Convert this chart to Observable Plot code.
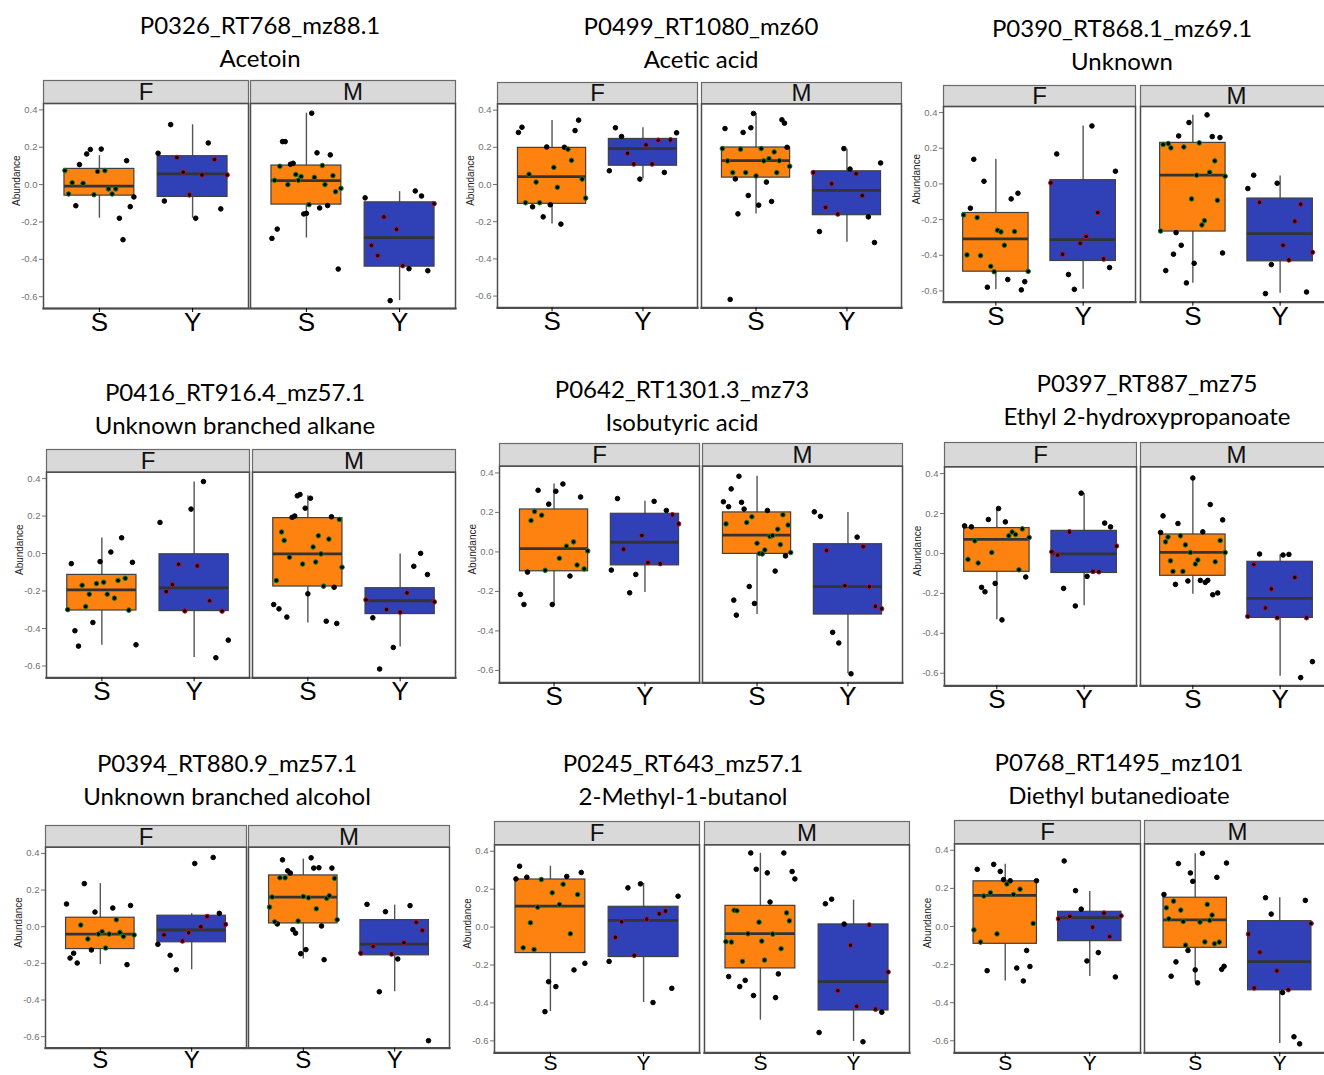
<!DOCTYPE html>
<html><head><meta charset="utf-8">
<script src="https://cdn.jsdelivr.net/npm/d3@7"></script>
<script src="https://cdn.jsdelivr.net/npm/@observablehq/plot@0.6"></script>
<style>
html,body{margin:0;padding:0;background:#fff;}
body{width:1324px;height:1075px;overflow:hidden;position:relative;}
.title{position:absolute;font-family:Lato,"Open Sans",sans-serif;font-size:24px;line-height:33px;text-align:center;white-space:nowrap;color:#000;transform:translateX(-50%);}
.panel{position:absolute;}
.panel svg{overflow:visible;max-width:none !important;height:auto;}
</style></head><body>
<script>
const sexes = ["F","M"];
const groups = ["S","Y"];
const groupColors = ["#fe820f","#3041b7"];
const insideStroke = ["#1f7a1f","#c0103a"];
const yTicks = [-0.6,-0.4,-0.2,0,0.2,0.4];
const featureIds = ["P0326_RT768_mz88.1","P0499_RT1080_mz60","P0390_RT868.1_mz69.1","P0416_RT916.4_mz57.1","P0642_RT1301.3_mz73","P0397_RT887_mz75","P0394_RT880.9_mz57.1","P0245_RT643_mz57.1","P0768_RT1495_mz101"];
const compoundNames = ["Acetoin","Acetic acid","Unknown","Unknown branched alkane","Isobutyric acid","Ethyl 2-hydroxypropanoate","Unknown branched alcohol","2-Methyl-1-butanol","Diethyl butanedioate"];

// box summaries [lower whisker, Q1, median, Q3, upper whisker] in order F-S, F-Y, M-S, M-Y
const boxes1 = [[-0.18,-0.059,-0.008,0.084,0.155],[-0.18,-0.066,0.057,0.152,0.32],[-0.286,-0.107,0.021,0.102,0.382],[-0.621,-0.439,-0.284,-0.095,-0.038]];
const boxes2 = [[-0.213,-0.104,0.042,0.197,0.344],[0.031,0.101,0.193,0.245,0.305],[-0.158,0.037,0.128,0.199,0.382],[-0.31,-0.165,-0.032,0.071,0.19]];
const boxes3 = [[-0.593,-0.492,-0.308,-0.163,0.138],[-0.59,-0.432,-0.312,0.021,0.325],[-0.557,-0.267,0.049,0.23,0.385],[-0.613,-0.434,-0.279,-0.082,0.045]];
const boxes4 = [[-0.49,-0.304,-0.194,-0.114,0.083],[-0.555,-0.307,-0.183,-0.004,0.382],[-0.371,-0.176,-0.002,0.189,0.308],[-0.499,-0.323,-0.252,-0.185,-0.002]];
const boxes5 = [[-0.264,-0.098,0.017,0.215,0.344],[-0.205,-0.068,0.049,0.193,0.256],[-0.317,-0.01,0.085,0.2,0.383],[-0.617,-0.317,-0.176,0.039,0.2]];
const boxes6 = [[-0.332,-0.092,0.07,0.127,0.225],[-0.262,-0.098,-0.002,0.113,0.3],[-0.205,-0.112,0.005,0.095,0.378],[-0.615,-0.323,-0.225,-0.042,-0.007]];
const boxes7 = [[-0.207,-0.122,-0.04,0.049,0.235],[-0.235,-0.085,-0.018,0.06,0.071],[-0.176,0.018,0.162,0.28,0.369],[-0.355,-0.156,-0.095,0.036,0.118]];
const boxes8 = [[-0.446,-0.137,0.111,0.251,0.321],[-0.398,-0.158,0.035,0.107,0.23],[-0.491,-0.218,-0.035,0.112,0.389],[-0.603,-0.44,-0.288,0.014,0.142]];
const boxes9 = [[-0.286,-0.091,0.163,0.237,0.326],[-0.263,-0.077,0.046,0.077,0.184],[-0.293,-0.112,0.035,0.151,0.382],[-0.614,-0.335,-0.184,0.028,0.151]];

// individual samples, listed left to right as they appear, F-S, F-Y, M-S, M-Y
const points1 = [
 [0.075,-0.05,0.01,-0.113,0.107,0.007,0.164,0.188,-0.054,0.07,0.19,0.075,-0.023,-0.05,-0.023,-0.18,-0.295,0.128,-0.118,-0.066],
 [0.168,-0.088,0.321,0.145,0.066,-0.055,-0.18,0.052,0.223,0.134,-0.13,0.052],
 [-0.288,0.023,-0.238,0.098,0.23,0.23,0.0,0.109,0.114,0.054,0.023,0.043,-0.157,-0.154,-0.107,0.382,0.039,0.17,-0.125,0.102,0.0,-0.112,0.159,0.048,-0.038,-0.452,-0.02],
 [-0.071,-0.325,-0.38,-0.173,-0.621,-0.239,-0.434,-0.45,-0.034,-0.061,-0.461,-0.102]];
const points2 = [
 [0.28,0.308,-0.098,0.055,-0.12,0.013,-0.098,-0.174,0.202,-0.109,0.092,-0.015,-0.213,0.2,0.19,0.13,0.29,0.346,0.029,-0.073],
 [0.074,0.305,0.258,0.168,0.11,0.029,0.213,0.11,0.238,0.065,0.24,0.278],
 [0.193,0.301,0.127,-0.618,0.064,0.03,-0.158,0.19,0.28,0.064,-0.059,0.305,0.382,0.046,-0.111,0.193,0.127,0.013,0.139,-0.091,0.175,0.064,0.128,0.348,0.33,0.2,0.098],
 [0.064,-0.253,-0.123,0.004,-0.159,0.193,0.083,0.058,-0.06,-0.174,-0.312,0.116]];
const points3 = [
 [-0.174,-0.398,-0.136,0.138,-0.189,-0.402,0.015,-0.579,-0.462,-0.492,-0.26,-0.269,-0.344,-0.536,-0.084,-0.267,-0.052,-0.594,-0.548,-0.49],
 [0.006,0.168,-0.394,-0.508,-0.591,-0.333,-0.295,0.325,-0.161,-0.421,-0.469,0.071],
 [-0.264,0.221,-0.486,0.226,0.202,-0.394,-0.273,0.269,-0.344,0.207,-0.555,0.344,-0.084,-0.445,0.049,0.23,-0.23,-0.206,0.387,0.065,0.265,0.129,-0.092,0.26,-0.387,0.043],
 [-0.026,0.049,-0.103,-0.615,-0.452,0.004,-0.344,-0.426,-0.209,-0.114,-0.606,-0.383]];
const points4 = [
 [-0.299,-0.054,-0.412,-0.494,-0.169,-0.283,-0.217,-0.368,-0.16,-0.043,-0.153,-0.217,0.008,-0.238,-0.144,0.084,-0.132,-0.302,-0.047,-0.487],
 [0.166,-0.203,-0.166,-0.057,-0.306,0.237,-0.066,0.384,-0.252,-0.556,-0.307,-0.462],
 [-0.272,-0.144,-0.295,0.115,0.07,-0.339,-0.02,0.193,0.2,0.308,0.315,-0.056,0.242,-0.215,0.295,0.035,-0.045,0.095,-0.002,-0.174,-0.361,0.077,0.196,-0.18,-0.373,0.182,-0.073],
 [-0.247,-0.343,-0.616,-0.299,-0.501,-0.313,-0.21,-0.068,0.001,-0.112,-0.258]];
const points5 = [
 [-0.215,-0.266,-0.102,0.159,0.205,0.312,0.186,-0.093,0.242,-0.266,0.307,-0.032,0.344,0.029,-0.122,0.051,-0.066,0.278,-0.086,0.005],
 [-0.092,0.27,0.014,-0.207,-0.114,0.083,-0.054,0.256,-0.059,0.21,0.188,0.142],
 [0.254,0.142,0.229,0.319,-0.244,-0.32,0.383,0.251,0.217,0.149,-0.175,0.178,-0.261,0.044,-0.008,-0.01,0.01,0.21,0.078,0.083,-0.097,0.115,0.037,0.188,-0.02,0.136,-0.003],
 [0.203,0.18,0.008,-0.407,-0.461,-0.171,-0.617,0.075,0.027,-0.176,-0.275,-0.288]];
const points6 = [
 [0.138,-0.03,0.133,0.063,-0.048,-0.17,-0.192,0.17,0.005,-0.15,0.225,-0.333,0.158,0.088,0.107,0.095,-0.082,0.123,-0.118,0.08],
 [0.008,-0.008,-0.175,0.108,-0.263,0.302,-0.115,-0.09,-0.092,0.152,0.133,0.037],
 [0.105,0.188,0.058,0.082,-0.037,-0.09,-0.155,0.15,0.088,-0.09,0.043,-0.138,0.005,0.378,-0.053,-0.033,-0.135,0.108,-0.145,-0.135,0.245,-0.207,-0.042,-0.198,0.065,0.168,0.005],
 [-0.315,-0.055,-0.003,-0.273,-0.178,-0.322,-0.008,-0.005,-0.12,-0.622,-0.322,-0.542]];
const points7 = [
 [0.124,-0.171,-0.145,-0.198,0.009,0.235,-0.067,-0.127,0.08,-0.04,-0.027,-0.116,-0.04,0.102,0.038,-0.031,-0.053,-0.207,0.116,-0.045],
 [-0.096,-0.044,-0.156,-0.235,-0.078,-0.033,0.345,0.0,0.056,0.378,0.073,0.013],
 [0.107,0.162,0.027,0.015,0.267,0.365,0.267,0.305,0.293,-0.016,-0.035,0.031,-0.147,0.165,-0.125,0.158,0.376,0.32,0.098,0.322,0.004,-0.18,0.155,0.169,0.32,0.264,0.038],
 [-0.144,0.122,-0.107,-0.355,0.082,-0.149,-0.176,-0.087,0.115,0.024,-0.02,-0.622]];
const points8 = [
 [0.254,0.321,-0.109,0.263,0.023,-0.118,0.105,0.251,-0.446,-0.288,0.181,-0.314,0.119,0.226,0.267,-0.035,-0.226,0.172,0.288,-0.191],
 [-0.181,-0.054,0.028,0.207,-0.149,0.228,0.042,-0.398,0.07,0.084,-0.323,0.163],
 [-0.077,-0.261,-0.079,0.089,0.086,-0.314,-0.181,-0.281,-0.035,0.391,-0.361,0.305,0.026,-0.074,-0.174,0.286,0.132,-0.037,-0.372,-0.247,-0.114,0.391,0.075,0.033,0.293,0.254],
 [-0.556,0.123,0.147,-0.335,0.016,-0.096,-0.418,-0.605,0.011,-0.433,-0.449,-0.237]];
const points9 = [
 [-0.018,0.3,-0.082,0.16,-0.232,0.177,0.326,-0.039,0.289,0.246,0.223,0.24,0.168,-0.218,0.196,-0.286,-0.126,-0.21,0.016,0.24],
 [0.04,0.344,0.053,0.188,0.091,-0.181,-0.004,-0.137,0.07,-0.053,-0.265,0.056],
 [0.168,0.098,0.04,-0.261,0.133,-0.186,0.33,0.086,0.026,-0.098,-0.126,0.281,0.237,-0.228,-0.296,0.023,0.384,-0.081,0.116,0.032,0.06,-0.091,0.258,-0.082,-0.225,-0.209,0.333],
 [-0.04,-0.323,-0.135,0.151,0.065,-0.233,-0.347,-0.332,-0.579,-0.616,0.137,0.016]];

const allBoxes = [boxes1,boxes2,boxes3,boxes4,boxes5,boxes6,boxes7,boxes8,boxes9];
const allPoints = [points1,points2,points3,points4,points5,points6,points7,points8,points9];

// page layout (pixels): facet-frame left/right, strip top/bottom, panel bottom, title centre, label padding/size
const layout = [
 {fl:43, mr:455, gap:2, st:80, sb:103, pb:308, cx:260, ty:24, lp:0, fs:26},
 {fl:497, mr:902, gap:4, st:82, sb:103.3, pb:307.3, cx:701, ty:25, lp:0, fs:26},
 {fl:943.3, mr:1333.4, gap:4.7, st:85, sb:106, pb:301.7, cx:1122, ty:27, lp:0, fs:26},
 {fl:45, mr:455, gap:3.4, st:449, sb:471.7, pb:677.3, cx:235, ty:391, lp:0, fs:26},
 {fl:499.3, mr:902.3, gap:3.4, st:443.3, sb:466, pb:682.7, cx:682, ty:388, lp:0, fs:26},
 {fl:943.3, mr:1332.4, gap:4.3, st:441.7, sb:466, pb:685, cx:1147, ty:382, lp:0, fs:26},
 {fl:45, mr:450, gap:1.7, st:825, sb:846.7, pb:1047.7, cx:227, ty:762, lp:-1, fs:24},
 {fl:493.3, mr:910, gap:4.7, st:821, sb:844.3, pb:1052.3, cx:683, ty:762, lp:-2, fs:21},
 {fl:953.3, mr:1330.7, gap:4, st:820, sb:843.3, pb:1052.3, cx:1119, ty:761, lp:-2, fs:21}
];

const combos = [["F","S"],["F","Y"],["M","S"],["M","Y"]];
const HALF_BOX = 0.375, JIT = 0.37;

layout.forEach((L, p) => {
  const boxData = combos.map(([sex, group], k) => {
    const gi = groups.indexOf(group) + 1;
    const [lo, q1, med, q3, hi] = allBoxes[p][k];
    return {sex, group, xc: gi, xa: gi - HALF_BOX, xb: gi + HALF_BOX, lo, q1, med, q3, hi};
  });
  const ptData = [];
  combos.forEach(([sex, group], k) => {
    const gi = groups.indexOf(group) + 1;
    const vals = allPoints[p][k];
    const n = vals.length;
    const b = boxData[k];
    vals.forEach((v, i) => {
      ptData.push({sex, group, v, xj: gi - JIT + 2 * JIT * i / (n - 1), inside: v >= b.q1 && v <= b.q3});
    });
  });

  const ML = 45, MR = 2, MB = 36;
  const MT = L.sb - L.st;
  const plotH = L.pb - L.sb;
  const width = ML + (L.mr - L.fl) + MR;
  const height = MT + plotH + MB;
  const facetW = (L.mr - L.fl - L.gap) / 2;
  const pi = L.gap / (facetW + L.gap);

  const chart = Plot.plot({
    width, height,
    marginLeft: ML, marginRight: MR, marginTop: MT, marginBottom: MB,
    style: {fontFamily: "'Liberation Sans', Arial, sans-serif", background: "transparent", overflow: "visible", maxWidth: "none"},
    fx: {domain: sexes, paddingInner: pi, paddingOuter: 0, axis: null},
    x: {domain: [0.4, 2.6]},
    y: {domain: [-0.663, 0.434]},
    color: {domain: groups, range: groupColors},
    marks: [
      Plot.frame({fill: "#d9d9d9", stroke: "#6a6a6a", strokeWidth: 1.2, insetTop: -MT, insetBottom: plotH}),
      Plot.ruleX(boxData, {fx: "sex", x: "xc", y1: "lo", y2: "hi", stroke: "#555", strokeWidth: 1.4}),
      Plot.rect(boxData, {fx: "sex", x1: "xa", x2: "xb", y1: "q1", y2: "q3", fill: "group", stroke: "#404040", strokeWidth: 1.2}),
      Plot.ruleY(boxData, {fx: "sex", y: "med", x1: "xa", x2: "xb", stroke: "#333", strokeWidth: 2.8}),
      Plot.dot(ptData, {filter: d => !d.inside, fx: "sex", x: "xj", y: "v", r: 2.3, fill: "#000", stroke: "#000", strokeWidth: 1}),
      Plot.dot(ptData, {filter: d => d.inside && d.group === "S", fx: "sex", x: "xj", y: "v", r: 2.3, fill: "#000", stroke: insideStroke[0], strokeWidth: 1}),
      Plot.dot(ptData, {filter: d => d.inside && d.group === "Y", fx: "sex", x: "xj", y: "v", r: 2.3, fill: "#000", stroke: insideStroke[1], strokeWidth: 1}),
      Plot.frame({stroke: "#4d4d4d", strokeWidth: 1.5}),
      Plot.frame({anchor: "bottom", stroke: "#4d4d4d", strokeWidth: 2.2}),
      Plot.axisY({ticks: yTicks, tickFormat: d => d.toFixed(1), tickSize: 4, tickPadding: 2, fontSize: 9.5, color: "#707070", label: null}),
      Plot.axisX({ticks: [1, 2], tickFormat: d => groups[d - 1], tickSize: 4, tickPadding: L.lp, fontSize: L.fs, color: "#000", label: null}),
      Plot.text(sexes, {fx: d => d, text: d => d, frameAnchor: "top", dy: -MT / 2 + 0.5, lineAnchor: "middle", fontSize: 24, fill: "#111"}),
      Plot.text(["Abundance"], {fx: ["F"], text: d => d, frameAnchor: "left", dx: -27, rotate: -90, fontSize: 10, fill: "#222"})
    ]
  });
  chart.style.maxWidth = "none";
  const div = document.createElement("div");
  div.className = "panel";
  div.style.left = (L.fl - ML) + "px";
  div.style.top = L.st + "px";
  div.style.width = width + "px";
  div.style.height = height + "px";
  div.appendChild(chart);
  document.body.appendChild(div);

  const t = document.createElement("div");
  t.className = "title";
  t.style.left = L.cx + "px";
  t.style.top = (L.ty - 16.5) + "px";
  const l1 = document.createElement("div"); l1.textContent = featureIds[p];
  const l2 = document.createElement("div"); l2.textContent = compoundNames[p];
  t.appendChild(l1); t.appendChild(l2);
  document.body.appendChild(t);
});
</script>
</body></html>
